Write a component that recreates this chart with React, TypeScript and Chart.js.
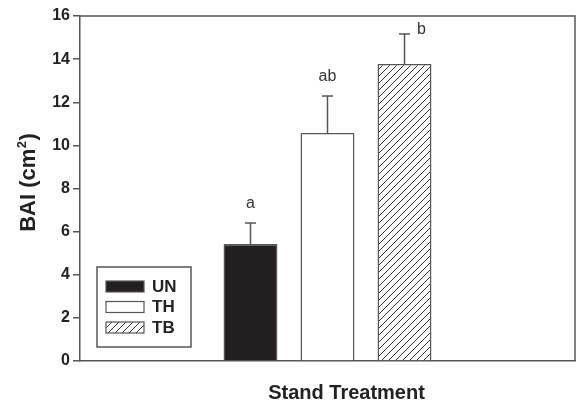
import React, { useEffect, useRef } from "react";
import { Chart, registerables } from "chart.js";

Chart.register(...registerables);

const categories = ["Stand Treatment"];
const treatments = ["UN", "TH", "TB"];
const baiMeans = [5.43, 10.57, 13.77];
const baiErrors = [0.97, 1.72, 1.4];
const sigLetters = ["a", "ab", "b"];
const yMin = 0;
const yMax = 16;
const yStep = 2;
const xTitle = "Stand Treatment";
const yTitleMain = "BAI (cm";
const yTitleSup = "2";
const yTitleEnd = ")";

const FONT = "'Liberation Sans', Arial, Helvetica, sans-serif";
const AXIS = "#555";
const TEXT = "#222";

function makeHatch(): CanvasPattern | string {
  const s = 7;
  const c = document.createElement("canvas");
  c.width = s;
  c.height = s;
  const g = c.getContext("2d");
  if (!g) return "#fff";
  g.fillStyle = "#fff";
  g.fillRect(0, 0, s, s);
  g.strokeStyle = "#333";
  g.lineWidth = 1;
  g.beginPath();
  g.moveTo(0, s);
  g.lineTo(s, 0);
  g.moveTo(-1, 1);
  g.lineTo(1, -1);
  g.moveTo(s - 1, s + 1);
  g.lineTo(s + 1, s - 1);
  g.stroke();
  return g.createPattern(c, "repeat") || "#fff";
}

export default function App() {
  const ref = useRef<HTMLCanvasElement | null>(null);

  useEffect(() => {
    document.body.style.margin = "0";
    const canvas = ref.current;
    if (!canvas) return;
    const hatch = makeHatch();
    const fills: (string | CanvasPattern)[] = ["#231f20", "#ffffff", hatch];

    const overlay = {
      id: "overlay",
      afterDatasetsDraw(chart: any) {
        const ctx = chart.ctx as CanvasRenderingContext2D;
        const area = chart.chartArea;
        const y = chart.scales.y;
        ctx.save();
        // frame top & right
        ctx.strokeStyle = AXIS;
        ctx.lineWidth = 1.5;
        ctx.beginPath();
        ctx.moveTo(area.left, area.top);
        ctx.lineTo(area.right, area.top);
        ctx.lineTo(area.right, area.bottom);
        ctx.stroke();

        // error bars and letters
        chart.data.datasets.forEach((ds: any, i: number) => {
          const el = chart.getDatasetMeta(i).data[0];
          const cx = el.x;
          const topY = y.getPixelForValue(baiMeans[i]);
          const capY = y.getPixelForValue(baiMeans[i] + baiErrors[i]);
          ctx.strokeStyle = AXIS;
          ctx.lineWidth = 1.5;
          ctx.beginPath();
          ctx.moveTo(cx, topY);
          ctx.lineTo(cx, capY);
          ctx.moveTo(cx - 5.5, capY);
          ctx.lineTo(cx + 5.5, capY);
          ctx.stroke();

          ctx.fillStyle = "#333";
          ctx.font = `16px ${FONT}`;
          ctx.textBaseline = "middle";
          ctx.textAlign = "center";
          if (i === sigLetters.length - 1) {
            ctx.fillText(sigLetters[i], cx + 17, capY - 4);
          } else {
            ctx.fillText(sigLetters[i], cx, capY - 19);
          }
        });

        // legend box
        const lx = area.left + 17;
        const ly = area.bottom - 94;
        const lw = 94;
        const lh = 80;
        ctx.fillStyle = "#fff";
        ctx.fillRect(lx, ly, lw, lh);
        ctx.strokeStyle = AXIS;
        ctx.lineWidth = 1.5;
        ctx.strokeRect(lx, ly, lw, lh);
        chart.data.datasets.forEach((ds: any, i: number) => {
          const sy = ly + 14 + i * 20.5;
          ctx.fillStyle = fills[i] as any;
          ctx.fillRect(lx + 9, sy, 38, 11);
          ctx.strokeStyle = AXIS;
          ctx.lineWidth = 1.2;
          ctx.strokeRect(lx + 9, sy, 38, 11);
          ctx.fillStyle = TEXT;
          ctx.font = `bold 17px ${FONT}`;
          ctx.textAlign = "left";
          ctx.textBaseline = "middle";
          ctx.fillText(ds.label, lx + 55, sy + 6);
        });

        // x title
        ctx.fillStyle = TEXT;
        ctx.font = `bold 20px ${FONT}`;
        ctx.textAlign = "center";
        ctx.textBaseline = "middle";
        ctx.fillText(xTitle, (area.left + area.right) / 2 + 19, area.bottom + 32);

        // y title (rotated, with superscript)
        ctx.translate(27, (area.top + area.bottom) / 2 - 6);
        ctx.rotate(-Math.PI / 2);
        const mainFont = `bold 22px ${FONT}`;
        const supFont = `bold 13px ${FONT}`;
        ctx.font = mainFont;
        const w1 = ctx.measureText(yTitleMain).width;
        const w3 = ctx.measureText(yTitleEnd).width;
        ctx.font = supFont;
        const w2 = ctx.measureText(yTitleSup).width;
        let sx = -(w1 + w2 + w3 + 1) / 2;
        ctx.textAlign = "left";
        ctx.textBaseline = "alphabetic";
        const base = 8;
        ctx.font = mainFont;
        ctx.fillText(yTitleMain, sx, base);
        sx += w1 + 0.5;
        ctx.font = supFont;
        ctx.fillText(yTitleSup, sx, base - 9);
        sx += w2 + 0.5;
        ctx.font = mainFont;
        ctx.fillText(yTitleEnd, sx, base);
        ctx.restore();
      },
    };

    const chart = new Chart(canvas, {
      type: "bar",
      data: {
        labels: categories,
        datasets: treatments.map((t, i) => ({
          label: t,
          data: [baiMeans[i]],
          backgroundColor: fills[i] as any,
          borderColor: AXIS,
          borderWidth: 1.5,
          barPercentage: 0.7,
          categoryPercentage: 0.4667,
        })),
      },
      options: {
        animation: false,
        responsive: false,
        devicePixelRatio: 1,
        layout: { padding: { top: 16, right: 2, left: 0, bottom: 0 } },
        plugins: {
          legend: { display: false },
          tooltip: { enabled: false },
          title: { display: false },
        },
        scales: {
          x: {
            grid: { display: false },
            border: { display: true, color: AXIS, width: 1.5 },
            ticks: { display: false },
            afterFit: (scale: any) => {
              scale.height = 43;
            },
          },
          y: {
            min: yMin,
            max: yMax,
            grid: {
              drawOnChartArea: false,
              drawTicks: true,
              tickLength: 7,
              color: AXIS,
              lineWidth: 1.5,
            },
            border: { display: true, color: AXIS, width: 1.5 },
            ticks: {
              stepSize: yStep,
              padding: 3,
              color: TEXT,
              font: { size: 16, weight: "bold", family: FONT },
            },
            afterFit: (scale: any) => {
              scale.width = 80;
            },
          },
        },
      },
      plugins: [overlay],
    });

    return () => chart.destroy();
  }, []);

  return (
    <div style={{ width: 577, height: 404, background: "#fff" }}>
      <canvas ref={ref} width={577} height={404} style={{ display: "block" }} />
    </div>
  );
}
